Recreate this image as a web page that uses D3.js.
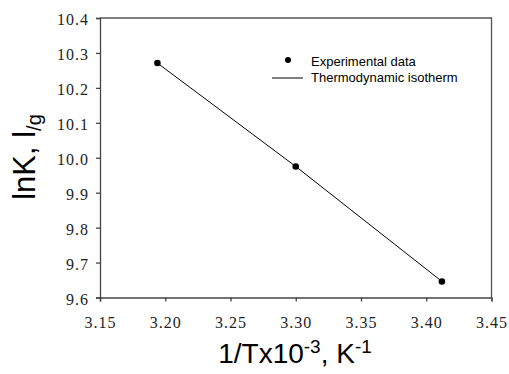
<!DOCTYPE html>
<html><head><meta charset="utf-8">
<script src="https://cdn.jsdelivr.net/npm/d3@7"></script>
<style>body{margin:0;background:#fff}svg{display:block}</style>
</head><body>
<svg id="c" width="509" height="374"></svg>
<script>
const xVals = [3.194, 3.300, 3.412];
const yVals = [10.271, 9.975, 9.646];
const xTicks = [3.15, 3.20, 3.25, 3.30, 3.35, 3.40, 3.45];
const yTicks = [9.6, 9.7, 9.8, 9.9, 10.0, 10.1, 10.2, 10.3, 10.4];
const legendLabels = ["Experimental data", "Thermodynamic isotherm"];

const svg = d3.select("#c");
const m = {l:100, t:18, r:491.5, b:297.5};
const x = d3.scaleLinear().domain([3.15, 3.45]).range([m.l, m.r]);
const y = d3.scaleLinear().domain([9.6, 10.4]).range([m.b, m.t]);

// frame top/right
svg.append("path").attr("d", `M${m.l},${m.t}H${m.r}V${m.b}`)
  .attr("fill","none").attr("stroke","#555").attr("stroke-width",1.3);

const xa = svg.append("g").attr("transform",`translate(0,${m.b})`)
  .call(d3.axisBottom(x).tickValues(xTicks).tickFormat(d3.format(".2f")).tickSize(4).tickPadding(15));
const ya = svg.append("g").attr("transform",`translate(${m.l},0)`)
  .call(d3.axisLeft(y).tickValues(yTicks).tickFormat(d3.format(".1f")).tickSize(4).tickPadding(7));
[xa, ya].forEach(a => {
  a.attr("font-family", null).attr("font-size", null);
  a.selectAll("path,line").attr("stroke","#444").attr("stroke-width",1.3);
  a.selectAll("text").style("font-family","'Liberation Serif','Times New Roman',serif")
    .style("font-size","16px").style("letter-spacing","1px").attr("fill","#222");
});
ya.selectAll("text").attr("dy","0.42em");

const pts = xVals.map((v,i)=>[v,yVals[i]]);
svg.append("path").datum(pts)
  .attr("d", d3.line().x(d=>x(d[0])).y(d=>y(d[1])))
  .attr("fill","none").attr("stroke","#000").attr("stroke-width",1);
svg.selectAll("circle.pt").data(pts).enter().append("circle")
  .attr("cx",d=>x(d[0])).attr("cy",d=>y(d[1])).attr("r",3.3).attr("fill","#000");

// legend
const lg = svg.append("g").style("font-family","'Liberation Sans',Arial,sans-serif").style("font-size","13px");
lg.append("circle").attr("cx",288).attr("cy",60).attr("r",3).attr("fill","#000");
lg.append("line").attr("x1",272).attr("x2",303).attr("y1",78).attr("y2",78).attr("stroke","#000");
lg.append("text").attr("x",311).attr("y",66).text(legendLabels[0]);
lg.append("text").attr("x",311).attr("y",82).text(legendLabels[1]);

// axis titles
const yt = svg.append("text").attr("transform","translate(35,157) rotate(-90)")
  .attr("text-anchor","middle").style("font-family","'Liberation Sans',Arial,sans-serif").style("font-size","31px");
yt.append("tspan").text("lnK, l");
yt.append("tspan").style("font-size","20px").attr("dy",6).text("/g");

const xt = svg.append("text").attr("x",295).attr("y",363)
  .attr("text-anchor","middle").style("font-family","'Liberation Sans',Arial,sans-serif").style("font-size","28px");
xt.append("tspan").text("1/Tx10");
xt.append("tspan").style("font-size","19px").attr("dy",-10).text("-3");
xt.append("tspan").attr("dy",10).text(", K");
xt.append("tspan").style("font-size","19px").attr("dy",-10).text("-1");
</script>
</body></html>
